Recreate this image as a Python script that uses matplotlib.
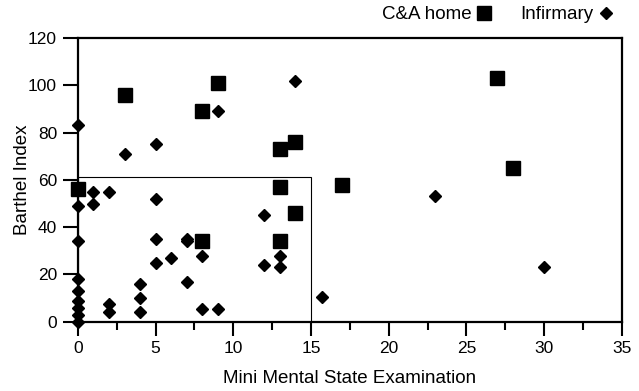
import matplotlib
matplotlib.use('Agg')
import matplotlib.pyplot as plt
from matplotlib.patches import Rectangle
from matplotlib.ticker import MultipleLocator

plt.rcParams['font.family'] = ['Liberation Sans', 'DejaVu Sans']

# C&A home residents (squares)
home_mmse = [0, 3, 9, 8, 13, 14, 27, 28, 17, 13, 14, 13, 8]
home_barthel = [56, 96, 101, 89, 73, 76, 103, 65, 58, 57, 46, 34, 34]

# Infirmary patients (diamonds)
inf_mmse = [0, 3, 5, 9, 14, 23, 30, 1, 2, 1, 0, 5, 0, 5, 7, 6, 5, 7, 4, 4, 4, 2, 2,
            0, 0, 0, 0, 0, 0, 12, 7, 8, 13, 12, 13, 8, 9, 15.7]
inf_barthel = [83, 71, 75, 89, 102, 53, 23, 55, 55, 50, 49, 52, 34, 35, 35, 27, 25, 17, 16, 10, 4, 7.5, 4,
               18, 13, 9, 6, 3, 0, 45, 34, 28, 28, 24, 23, 5.5, 5.5, 10.5]

fig, ax = plt.subplots(figsize=(6.39, 3.91), dpi=100)
fig.subplots_adjust(left=0.122, right=0.973, bottom=0.177, top=0.903)

ax.plot(home_mmse, home_barthel, 's', color='black', markersize=9.5,
        linestyle='none', label='C&A home', clip_on=False, zorder=3)
ax.plot(inf_mmse, inf_barthel, 'D', color='black', markersize=6.2,
        linestyle='none', label='Infirmary', clip_on=False, zorder=3)

# box marking the low-score region
ax.add_patch(Rectangle((0, 0), 15, 61, fill=False, edgecolor='black', linewidth=0.8))

ax.set_xlim(0, 35)
ax.set_ylim(0, 120)
ax.xaxis.set_major_locator(MultipleLocator(5))
ax.xaxis.set_minor_locator(MultipleLocator(2.5))
ax.yaxis.set_major_locator(MultipleLocator(20))
ax.tick_params(axis='both', which='major', direction='out', width=1.5,
               labelsize=12.5, colors='black', pad=4)
ax.tick_params(axis='x', which='major', length=10)
ax.tick_params(axis='y', which='major', length=11)
ax.tick_params(axis='x', which='minor', direction='out', length=6, width=1.5)

for side in ['left', 'bottom', 'top', 'right']:
    ax.spines[side].set_linewidth(1.6)

ax.set_xlabel('Mini Mental State Examination', fontsize=13.5, labelpad=10)
ax.set_ylabel('Barthel Index', fontsize=13.5, labelpad=-2)

ax.legend(ncol=2, markerfirst=False, frameon=False, loc='center right',
          bbox_to_anchor=(0.958, 0.962), bbox_transform=fig.transFigure,
          fontsize=13.5, handletextpad=0.3, columnspacing=1.6,
          handlelength=0.7, borderaxespad=0, borderpad=0)

fig.savefig('out.png', dpi=100)
